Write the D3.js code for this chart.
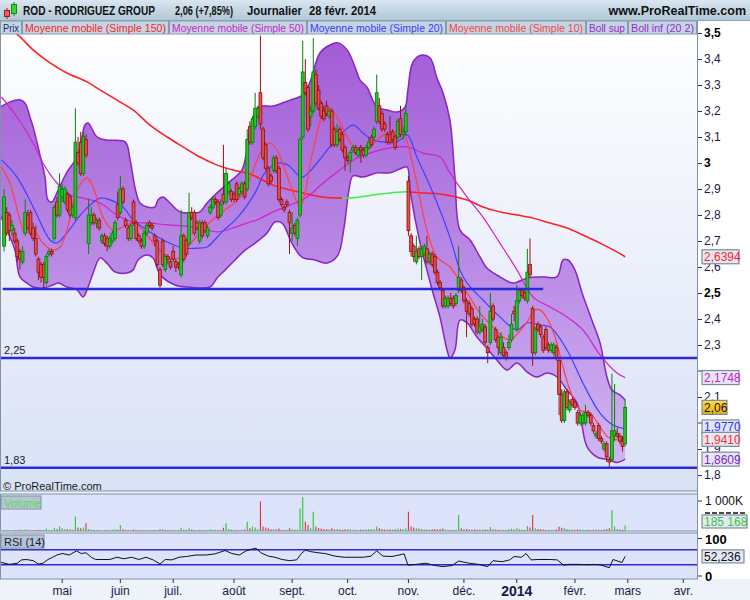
<!DOCTYPE html>
<html><head><meta charset="utf-8">
<script src="https://cdn.jsdelivr.net/npm/d3@7/dist/d3.min.js"></script>
<style>body{margin:0;background:#fff}svg{display:block;font-family:"Liberation Sans",Arial,sans-serif}</style>
</head><body><svg id="chart" width="750" height="600"></svg>
<script>
// ---------------- DATA ----------------
const startIndex = -1; // trading-day index of first candle (index 0 = 2 avr. 2013)
// [open, high, low, close]
const ohlc = [
[2.68,2.90,2.66,2.87],[2.81,2.83,2.72,2.73],[2.80,2.81,2.70,2.74],[2.74,2.78,2.72,2.76],[2.73,2.75,2.69,2.70],
[2.70,2.71,2.62,2.64],[2.66,2.67,2.59,2.63],[2.62,2.68,2.61,2.66],[2.73,2.86,2.72,2.81],[2.80,2.82,2.74,2.75],
[2.81,2.82,2.72,2.73],[2.75,2.77,2.70,2.71],[2.71,2.76,2.64,2.65],[2.63,2.64,2.55,2.58],[2.61,2.62,2.54,2.56],
[2.61,2.62,2.52,2.56],[2.54,2.65,2.53,2.64],[2.65,2.67,2.64,2.66],[2.66,2.67,2.64,2.65],[2.71,2.84,2.70,2.83],
[2.85,2.87,2.79,2.80],[2.80,2.96,2.79,2.91],[2.87,2.92,2.85,2.90],[2.85,2.91,2.84,2.90],[2.88,2.89,2.81,2.82],
[2.87,2.88,2.79,2.80],[2.80,2.84,2.79,2.83],[2.79,3.21,2.78,3.08],[3.04,3.10,2.99,3.00],[3.08,3.12,2.95,2.96],
[2.96,3.12,2.95,3.10],[3.09,3.11,3.02,3.03],[2.69,2.86,2.65,2.80],[2.77,2.83,2.76,2.80],[2.80,2.81,2.76,2.77],
[2.77,2.79,2.75,2.78],[2.78,2.79,2.74,2.75],[2.70,2.73,2.69,2.72],[2.72,2.73,2.68,2.69],[2.71,2.72,2.66,2.68],
[2.68,2.72,2.67,2.71],[2.70,2.74,2.69,2.73],[2.71,2.78,2.70,2.77],[2.84,2.89,2.78,2.79],[2.81,2.95,2.80,2.90],
[2.90,2.91,2.84,2.85],[2.78,2.79,2.75,2.76],[2.75,2.76,2.70,2.71],[2.71,2.77,2.70,2.76],[2.85,2.86,2.76,2.77],
[2.77,2.78,2.70,2.71],[2.72,2.73,2.69,2.70],[2.70,2.71,2.67,2.68],[2.68,2.74,2.67,2.73],[2.73,2.77,2.72,2.76],
[2.77,2.78,2.75,2.76],[2.76,2.77,2.74,2.75],[2.72,2.73,2.68,2.70],[2.70,2.71,2.60,2.61],[2.59,2.60,2.52,2.53],
[2.70,2.71,2.60,2.61],[2.59,2.65,2.58,2.64],[2.64,2.65,2.61,2.63],[2.62,2.63,2.59,2.60],[2.66,2.68,2.62,2.63],
[2.62,2.63,2.58,2.60],[2.61,2.62,2.59,2.60],[2.57,2.82,2.56,2.72],[2.72,2.73,2.62,2.63],[2.70,2.71,2.64,2.65],
[2.69,2.885,2.68,2.81],[2.81,2.83,2.78,2.79],[2.81,2.82,2.72,2.73],[2.77,2.78,2.74,2.75],[2.70,2.78,2.69,2.77],
[2.77,2.78,2.71,2.72],[2.77,2.78,2.73,2.74],[2.72,2.76,2.71,2.75],[2.81,2.84,2.80,2.83],[2.83,2.87,2.82,2.86],
[2.86,2.87,2.84,2.85],[2.85,2.86,2.78,2.79],[2.80,2.86,2.79,2.84],[2.88,3.07,2.84,2.85],[2.85,2.98,2.84,2.96],
[2.89,2.93,2.88,2.92],[2.89,2.90,2.85,2.86],[2.88,2.89,2.85,2.86],[2.92,2.93,2.85,2.86],[2.88,2.91,2.87,2.90],
[2.89,2.93,2.88,2.92],[2.92,2.93,2.86,2.87],[2.90,3.13,2.89,3.09],[3.14,3.16,3.07,3.08],[3.08,3.18,3.07,3.17],
[3.14,3.27,3.13,3.21],[3.18,3.22,3.17,3.21],[3.27,3.49,3.13,3.15],[3.13,3.14,3.01,3.02],[3.07,3.08,2.97,2.98],
[2.98,2.99,2.91,2.92],[2.95,2.96,2.92,2.93],[2.97,3.03,2.96,3.02],[3.02,3.03,2.96,2.97],[2.98,2.99,2.85,2.86],
[2.86,2.87,2.83,2.84],[2.83,2.84,2.81,2.82],[2.85,2.86,2.83,2.84],[2.81,2.82,2.65,2.77],[2.73,2.81,2.70,2.75],
[2.76,2.77,2.72,2.73],[2.71,2.79,2.68,2.78],[2.80,3.10,2.79,3.09],[3.10,3.47,3.09,3.35],[3.31,3.40,3.26,3.27],
[3.29,3.30,3.12,3.13],[3.18,3.22,3.14,3.20],[3.20,3.48,3.19,3.35],[3.34,3.36,3.22,3.23],[3.28,3.30,3.20,3.21],
[3.23,3.24,3.17,3.18],[3.20,3.22,3.16,3.17],[3.22,3.24,3.18,3.19],[3.18,3.21,3.17,3.20],[3.20,3.21,3.06,3.07],
[3.13,3.14,3.06,3.07],[3.07,3.15,3.06,3.12],[3.13,3.14,3.08,3.09],[3.11,3.12,3.04,3.05],[3.06,3.07,2.97,3.02],
[3.02,3.03,3.00,3.01],[3.01,3.05,2.965,3.04],[3.05,3.07,3.04,3.06],[3.06,3.07,3.03,3.04],[3.03,3.06,3.02,3.05],
[3.06,3.07,3.00,3.05],[3.05,3.06,3.02,3.03],[3.03,3.07,3.02,3.06],[3.06,3.10,3.05,3.08],[3.10,3.11,3.06,3.07],
[3.10,3.14,3.09,3.13],[3.16,3.34,3.15,3.27],[3.22,3.25,3.15,3.16],[3.19,3.20,3.12,3.13],[3.15,3.16,3.12,3.13],
[3.11,3.12,3.07,3.08],[3.11,3.18,3.07,3.08],[3.12,3.13,3.08,3.09],[3.10,3.11,3.05,3.06],[3.10,3.17,3.09,3.16],
[3.17,3.22,3.10,3.11],[3.11,3.14,3.09,3.12],[3.12,3.22,3.11,3.19],[2.93,2.95,2.72,2.74],[2.72,2.73,2.64,2.66],
[2.68,2.69,2.62,2.64],[2.62,2.72,2.61,2.66],[2.67,2.68,2.63,2.64],[2.64,2.68,2.55,2.67],[2.65,2.69,2.64,2.68],
[2.67,2.72,2.61,2.62],[2.62,2.66,2.61,2.65],[2.65,2.66,2.60,2.61],[2.64,2.65,2.57,2.58],[2.58,2.59,2.53,2.54],
[2.54,2.55,2.51,2.52],[2.51,2.52,2.44,2.45],[2.45,2.49,2.44,2.48],[2.45,2.49,2.44,2.48],[2.48,2.50,2.45,2.46],
[2.48,2.49,2.44,2.45],[2.46,2.50,2.45,2.49],[2.51,2.68,2.50,2.56],[2.55,2.56,2.50,2.51],[2.52,2.53,2.46,2.47],
[2.47,2.48,2.33,2.43],[2.46,2.47,2.41,2.42],[2.44,2.45,2.37,2.38],[2.40,2.41,2.37,2.38],[2.40,2.41,2.34,2.35],
[2.35,2.45,2.34,2.37],[2.36,2.40,2.35,2.38],[2.37,2.38,2.30,2.31],[2.29,2.30,2.23,2.27],[2.31,2.50,2.30,2.43],
[2.45,2.46,2.39,2.40],[2.36,2.37,2.31,2.32],[2.33,2.34,2.26,2.29],[2.27,2.35,2.26,2.33],[2.29,2.31,2.25,2.26],
[2.27,2.28,2.24,2.25],[2.29,2.34,2.28,2.31],[2.32,2.42,2.31,2.38],[2.43,2.45,2.39,2.42],[2.36,2.53,2.35,2.47],
[2.47,2.52,2.46,2.51],[2.51,2.52,2.48,2.49],[2.50,2.51,2.47,2.48],[2.47,2.67,2.46,2.58],[2.61,2.71,2.56,2.57],
[2.44,2.45,2.22,2.27],[2.27,2.37,2.26,2.36],[2.38,2.39,2.35,2.36],[2.37,2.38,2.33,2.34],[2.33,2.34,2.27,2.28],
[2.36,2.37,2.28,2.29],[2.30,2.31,2.27,2.28],[2.28,2.31,2.27,2.30],[2.27,2.31,2.26,2.30],[2.29,2.30,2.24,2.25],
[2.24,2.25,2.03,2.11],[2.11,2.13,2.00,2.01],[2.01,2.13,2.00,2.12],[2.12,2.13,2.05,2.06],[2.05,2.09,2.04,2.08],
[2.09,2.10,2.06,2.07],[2.08,2.09,2.05,2.06],[2.04,2.05,1.99,2.00],[2.00,2.04,1.99,2.03],[2.00,2.04,1.99,2.03],
[2.00,2.07,1.99,2.04],[2.04,2.05,2.02,2.03],[2.03,2.04,1.99,2.00],[1.99,2.00,1.96,1.97],[1.95,1.97,1.94,1.96],
[1.99,2.00,1.93,1.94],[1.94,1.95,1.92,1.93],[1.90,1.93,1.89,1.92],[1.92,1.93,1.85,1.87],[1.86,1.87,1.83,1.85],
[1.86,2.19,1.85,1.97],[1.95,2.15,1.93,1.97],[1.96,1.98,1.94,1.95],[1.95,1.96,1.92,1.93],[1.93,1.95,1.89,1.91],
[1.92,2.09,1.91,2.06]
];
// volume in thousands, same order as ohlc
const volumeK = [
30,25,20,15,30,25,40,20,60,30, 20,25,30,45,35,30,80,40,25,110, 60,150,90,70,60,50,40,480,120,90,
120,260,70,40,30,25,35,20,30,25, 30,45,60,40,200,60,40,30,25,50, 30,25,20,30,25,20,30,35,25,60,
50,40,30,25,30,20,25,110,40,30, 90,50,30,25,40,30,25,20,60,40, 30,25,40,110,260,70,40,35,30,25,
40,50,310,90,150,120,60,980,150,120, 90,60,70,50,80,40,30,35,90,60, 40,45,750,1130,310,200,90,640,150,100,
80,70,60,50,90,60,70,50,40,60, 50,60,40,45,35,50,40,60,70,50, 60,150,90,70,50,40,60,45,50,80,
60,50,90,640,150,120,90,80,70,60, 50,40,60,70,50,60,80,50,40,35, 30,45,530,90,60,70,50,40,60,45,
50,40,60,40,130,60,50,40,45,35, 40,60,80,50,90,60,40,35,170,120, 530,90,70,60,50,40,35,30,45,50,
140,110,90,60,50,40,45,60,50,40, 35,40,30,45,50,40,35,60,70,90, 700,150,60,50,40,185.168
];
// [trading-day index, value]
const ma150 = [[-1,3.53],[4.3,3.492],[10,3.435],[16.4,3.385],[22.8,3.346],[30.4,3.312],[35.3,3.281],[41.7,3.242],[47.8,3.204],[54.2,3.146],[60.7,3.10],[66.7,3.062],[73.1,3.023],[79.6,2.992],[85.6,2.973],[92,2.958],[100.8,2.915],[107.2,2.896],[113.6,2.881],[119.7,2.869],[127,2.864],[131,2.866],[138.6,2.877],[145,2.885],[151.5,2.889],[157.5,2.885],[164,2.881],[174.2,2.858],[180.2,2.831],[186.6,2.812],[193.1,2.80],[199.1,2.788],[205.6,2.769],[212,2.75],[218,2.723],[224.5,2.692],[230.9,2.658],[234,2.6394]];
const ma50 = [[-2,3.254],[3.9,3.177],[10,3.077],[13.7,3.0],[19,2.923],[24,2.877],[28.9,2.865],[35.3,2.846],[41.7,2.80],[47.8,2.773],[54.2,2.769],[60.7,2.762],[66.7,2.758],[73.1,2.75],[79.6,2.735],[85.6,2.75],[92,2.773],[94.7,2.781],[100.8,2.812],[107.2,2.838],[113.6,2.869],[119.7,2.923],[126.1,2.973],[132.5,3.019],[138.6,3.042],[145,3.058],[151.5,3.062],[157.5,3.038],[164,3.023],[167.7,2.962],[174.2,2.869],[180.2,2.792],[186.6,2.692],[193.1,2.588],[199.1,2.485],[205.6,2.446],[212,2.408],[218,2.358],[224.5,2.262],[230.9,2.192],[234,2.1748]];
const ma20 = [[-2,3.012],[3.9,2.946],[10,2.831],[16.4,2.704],[19,2.692],[22.8,2.731],[28.9,2.812],[35.3,2.865],[39.1,2.858],[44,2.831],[47.8,2.781],[54.2,2.735],[60.7,2.696],[66.7,2.673],[73.1,2.673],[75.8,2.677],[81.5,2.735],[87.5,2.792],[94,2.885],[97.7,2.962],[102.7,3.0],[106.4,2.992],[111.7,2.946],[117.4,3.0],[123.5,3.077],[131,3.146],[134.8,3.115],[138.6,3.088],[142.4,3.081],[147.7,3.081],[151.5,3.108],[155.2,3.023],[161.3,2.885],[167.7,2.715],[171.5,2.588],[174.2,2.538],[180.2,2.473],[186.6,2.408],[193.1,2.358],[196.9,2.385],[201.8,2.377],[205.6,2.369],[212,2.281],[218,2.154],[224.5,2.038],[229.4,1.992],[234,1.977]];
const ma10 = [[-2,2.985],[1.2,2.923],[5,2.781],[6.9,2.731],[10,2.742],[13.7,2.692],[17.5,2.665],[20.2,2.677],[22.8,2.742],[26.6,2.896],[30.4,2.942],[32.7,2.908],[36.4,2.792],[40.2,2.742],[44,2.754],[47.8,2.769],[51.6,2.742],[55.4,2.692],[59.1,2.654],[63,2.63],[66,2.64],[68.6,2.677],[75,2.754],[81.5,2.812],[87.5,2.858],[91.3,2.923],[96.6,3.05],[99.6,3.077],[102.3,3.05],[105.3,2.973],[108,2.896],[111,2.831],[112.9,2.885],[115.5,3.03],[121.2,3.215],[125,3.177],[128.8,3.10],[132.5,3.05],[136.3,3.05],[140.1,3.088],[143.9,3.115],[147.7,3.119],[150.7,3.10],[152.6,3.038],[155.2,2.923],[159,2.742],[162.8,2.638],[167.7,2.60],[174.2,2.50],[179.1,2.423],[184,2.369],[187.8,2.331],[190.4,2.319],[193.5,2.346],[196.9,2.388],[199.9,2.435],[201.8,2.435],[204.4,2.404],[207.5,2.331],[210.1,2.231],[213.1,2.127],[216.9,2.05],[220.7,2.038],[224.5,1.985],[227.5,1.946],[230.9,1.935],[234,1.941]];
const bollUp = [[-2.5,3.215],[1.25,3.235],[5,3.243],[6.9,3.231],[8.8,3.177],[10,3.138],[12.6,3.031],[14.5,2.946],[15.6,2.858],[17.1,2.85],[19,2.885],[20.9,2.927],[22.8,2.965],[26.6,3.023],[28.5,3.10],[29.6,3.146],[30.8,3.154],[34.2,3.10],[38,3.088],[44.8,3.081],[46.7,3.012],[48.5,2.908],[50.4,2.846],[53.1,2.831],[56.1,2.831],[57.2,2.858],[59.1,2.869],[61.8,2.846],[65.6,2.812],[70.5,2.808],[73.1,2.812],[75.8,2.846],[79.6,2.885],[85.2,2.935],[89,2.973],[90.9,3.05],[92.1,3.127],[95.1,3.215],[100.8,3.219],[107.2,3.242],[112.1,3.262],[114.8,3.312],[118.5,3.423],[122.3,3.454],[125.3,3.462],[128.8,3.435],[131.8,3.369],[133.7,3.319],[136.3,3.292],[140.1,3.215],[143.9,3.204],[147.7,3.196],[150.7,3.215],[151.8,3.281],[153.7,3.388],[157.1,3.415],[160.2,3.404],[162.8,3.327],[165.1,3.269],[167.7,3.165],[169.6,2.946],[171.5,2.742],[175.3,2.704],[179.1,2.638],[181.7,2.596],[186.6,2.562],[191.6,2.538],[196.9,2.558],[202.9,2.562],[208.2,2.562],[210.5,2.627],[212.4,2.627],[215,2.588],[217.7,2.50],[219.6,2.446],[221.8,2.385],[224.5,2.308],[227.1,2.177],[229,2.127],[232,2.108],[234,2.088]];
const bollLow = [[-2.5,2.80],[0.1,2.742],[3.1,2.665],[5,2.562],[7.7,2.538],[10,2.523],[13.7,2.519],[17.5,2.531],[19.4,2.538],[22.8,2.523],[26.6,2.512],[28.9,2.485],[30.8,2.523],[32.7,2.577],[35.3,2.635],[37.9,2.615],[41,2.581],[45.5,2.577],[47.8,2.588],[49.7,2.627],[53.1,2.646],[55.4,2.635],[57.2,2.588],[58.8,2.562],[63.7,2.531],[68.6,2.523],[76.9,2.523],[79.6,2.558],[82.6,2.588],[86.4,2.627],[90.2,2.665],[94,2.692],[98.5,2.731],[101.5,2.773],[104.2,2.769],[107.9,2.692],[111.7,2.638],[116.6,2.627],[121.2,2.615],[125.3,2.646],[127.6,2.75],[129.5,2.896],[131,2.95],[134.8,2.946],[140.1,2.962],[145,2.962],[149.6,2.981],[151.5,2.985],[152.6,2.896],[156.4,2.692],[159,2.588],[161.3,2.50],[163.9,2.408],[166.6,2.281],[167.7,2.25],[169.6,2.281],[171.5,2.396],[174.2,2.385],[177.9,2.331],[181.7,2.288],[185.5,2.242],[189.3,2.204],[193.1,2.231],[196.9,2.196],[200.6,2.177],[204.4,2.192],[208.2,2.177],[212,2.127],[215.8,2.077],[219.6,1.908],[223.4,1.869],[228.3,1.858],[230.9,1.848],[234,1.8609]];
const rsi14 = [[-3,38],[1,31],[4,34],[5.6,43],[7.4,44],[10,41],[12,32],[13.7,34],[15.6,44],[17.4,50],[19,56],[21,60],[23.7,56],[26.4,67],[28.2,60],[30,62],[32,50],[33.7,44],[36.4,44],[39,44],[41.7,50],[44.4,46],[47.3,50],[50,44],[52.7,50],[55.4,43],[58,32],[60,44],[62.5,43],[65.2,50],[68,52],[71.6,56],[75.4,56],[78.8,59],[82.6,68],[85.2,60],[88,56],[90.6,67],[92.4,71],[94.3,74],[96.2,62],[99,53],[101.5,50],[104.2,44],[107,41],[109.7,43],[111.5,60],[113,69],[115,65],[117.8,62],[120.4,60],[124.2,53],[127.8,50],[131.4,50],[135,50],[137.8,53],[140,67],[142.4,53],[145.8,52],[150.4,59],[151.8,29],[155,31],[158.6,34],[162,28],[165,25],[168.5,28],[171,40],[175,34],[178.5,31],[182,25],[184,41],[187.4,38],[190.3,43],[192,52],[194.8,50],[196.5,60],[198.4,43],[201,44],[205.6,44],[208.3,43],[210.7,29],[212.8,31],[216.6,31],[220,30],[221.8,31],[224.5,30],[228,22],[229.4,44],[232.8,36],[234,52.236]];
const supportLevels = [{p:2.515, from:-1.5, to:203}, {p:2.25, from:-5, to:270, label:"2,25"}, {p:1.828, from:-5, to:270, label:"1,83"}];
const monthStarts = [21,43,63,86,108,129,152,173,193,215,235,256];
const monthLabels = ["mai","juin","juil.","août","sept.","oct.","nov.","déc.","2014","févr.","mars","avr."];
const priceTicks = [3.5,3.4,3.3,3.2,3.1,3.0,2.9,2.8,2.7,2.6,2.5,2.4,2.3,2.1,1.9,1.8];
const lastValues = [{v:2.6394,c:"#ff1e1e",dy:0},{v:2.1748,c:"#d020d0",dy:0},{v:1.9770,c:"#3030ff",dy:-2},{v:1.9410,c:"#ff3030",dy:1},{v:1.8609,c:"#8a1ec8",dy:0}];
const lastClose = 2.06, lastVolume = "185 168", lastRsi = 52.236;
const legendItems = [["Prix","#1a2a6a"],["Moyenne mobile (Simple 150)","#f02828"],["Moyenne mobile (Simple 50)","#c828c8"],["Moyenne mobile (Simple 20)","#3a3aff"],["Moyenne mobile (Simple 10)","#f04848"],["Boll sup","#9a2ad0"],["Boll inf (20 2)","#9a2ad0"]];

// ---------------- LAYOUT ----------------
const L = {left:1, right:697, pTop:21, pBot:491, vTop:494, vBot:531, rTop:533, rBot:579};
const tabEdges = [0,22,169,307,446,586,628,697];
const svg = d3.select("#chart");
const defs = svg.append("defs");
function vgrad(id,y1,y2,stops){const g=defs.append("linearGradient").attr("id",id).attr("gradientUnits","userSpaceOnUse").attr("x1",0).attr("x2",0).attr("y1",y1).attr("y2",y2);stops.forEach(s=>g.append("stop").attr("offset",s[0]).attr("stop-color",s[1]));}
vgrad("gHead",0,20,[[0,"#d8e6f0"],[1,"#b1c7d7"]]);
vgrad("gPrice",L.pTop,L.pBot,[[0,"#ffffff"],[1,"#d9e1f6"]]);
vgrad("gBand",40,470,[[0,"#a25cd6"],[1,"#d0b6f3"]]);
vgrad("gGold",400,415,[[0,"#ffd84a"],[1,"#e8b000"]]);
defs.append("clipPath").attr("id","clipP").append("rect").attr("x",L.left).attr("y",L.pTop).attr("width",L.right-L.left).attr("height",L.pBot-L.pTop);
defs.append("clipPath").attr("id","clipR").append("rect").attr("x",L.left).attr("y",L.rTop).attr("width",L.right-L.left).attr("height",L.rBot-L.rTop);

const x = d3.scaleLinear().domain([0,256]).range([6.7,683.3]);
const yP = d3.scaleLinear().domain([1.8,3.5]).range([475,33]);
const yV = d3.scaleLinear().domain([0,1000]).range([L.vBot,501]);
const yR = d3.scaleLinear().domain([0,100]).range([576,538.5]);
const comma = v => String(+v.toFixed(4)).replace(".",",");
const comma4 = v => v.toFixed(4).replace(".",",");

// backgrounds
svg.append("rect").attr("width",750).attr("height",600).attr("fill","#eef2f9");
svg.append("rect").attr("x",L.right).attr("y",L.pTop).attr("width",53).attr("height",L.rBot-L.pTop).attr("fill","#ffffff");
svg.append("rect").attr("x",L.left).attr("y",L.pTop).attr("width",L.right-L.left).attr("height",L.pBot-L.pTop).attr("fill","url(#gPrice)");
svg.append("rect").attr("x",L.left).attr("y",L.vTop).attr("width",L.right-L.left).attr("height",L.vBot-L.vTop).attr("fill","#dce3fa");
svg.append("rect").attr("x",L.left).attr("y",L.rTop).attr("width",L.right-L.left).attr("height",L.rBot-L.rTop).attr("fill","#dce3fa");

// ---------------- PRICE PANEL ----------------
const gp = svg.append("g").attr("clip-path","url(#clipP)");
const cr = d3.curveCatmullRom.alpha(0.5);
const ln = d3.line().x(d=>x(d[0])).y(d=>yP(d[1])).curve(cr);
const bandPath = ln(bollUp) + "L" + ln(bollLow.slice().reverse()).slice(1) + "Z";
gp.append("path").attr("d",bandPath).attr("fill","url(#gBand)");
gp.append("path").attr("d",ln(bollUp)).attr("fill","none").attr("stroke","#8a22c4").attr("stroke-width",1.5);
gp.append("path").attr("d",ln(bollLow)).attr("fill","none").attr("stroke","#8a22c4").attr("stroke-width",1.5);

// MA150 coloured green where rising
let runs=[], cur=null;
for(let k=0;k<ma150.length-1;k++){const up=ma150[k+1][1]>ma150[k][1];const col=up?"#3cf03c":"#ff1e1e";if(!cur||cur.col!==col){cur={col,pts:[ma150[k]]};runs.push(cur);}cur.pts.push(ma150[k+1]);}
runs.forEach(r=>gp.append("path").attr("d",ln(r.pts)).attr("fill","none").attr("stroke",r.col).attr("stroke-width",1.5));
[[ma50,"#d020d0"],[ma20,"#4040ff"],[ma10,"#ff4040"]].forEach(([d,c])=>gp.append("path").attr("d",ln(d)).attr("fill","none").attr("stroke",c).attr("stroke-width",1.2));

// candles
const cg = gp.append("g");
ohlc.forEach((d,k)=>{
  const i=startIndex+k, cx=x(i), up=d[3]>=d[0];
  const edge=up?"#0a800a":"#9a1212", fill=up?"#26c626":"#dc5450";
  cg.append("line").attr("x1",cx).attr("x2",cx).attr("y1",yP(d[1])).attr("y2",yP(d[2])).attr("stroke",edge).attr("stroke-width",1);
  const y0=yP(Math.max(d[0],d[3])), h=Math.max(1,Math.abs(yP(d[0])-yP(d[3])));
  cg.append("rect").attr("x",cx-1.4).attr("y",y0).attr("width",2.8).attr("height",h).attr("fill",fill).attr("stroke",edge).attr("stroke-width",0.9);
});
// support lines
supportLevels.forEach(s=>{
  gp.append("line").attr("x1",Math.max(L.left,x(s.from))).attr("x2",Math.min(L.right,x(s.to))).attr("y1",yP(s.p)).attr("y2",yP(s.p)).attr("stroke","#2a2ad8").attr("stroke-width",2.5);
  if(s.label) gp.append("text").attr("x",4).attr("y",yP(s.p)-4).attr("font-size",11).attr("fill","#1a1a2a").text(s.label);
});
svg.append("text").attr("x",3).attr("y",490).attr("font-size",11).attr("fill","#1a1a1a").text("© ProRealTime.com");

// price axis
const ax = svg.append("g").attr("transform",`translate(${L.right},0)`).call(d3.axisRight(yP).tickValues(priceTicks).tickSize(4).tickPadding(3).tickFormat(comma));
ax.select(".domain").remove();
ax.selectAll("line").attr("stroke","#333").attr("transform","translate(1,0)");
ax.selectAll("text").attr("font-size",12).attr("font-family","Liberation Sans, Arial, sans-serif")
  .attr("font-weight",d=>Math.abs(d*2-Math.round(d*2))<1e-6?"bold":"normal").attr("fill",d=>Math.abs(d*2-Math.round(d*2))<1e-6?"#000":"#141c48");
// hidden-behind-box ticks (2,2 and 2,0): tick marks only
[2.2,2.0].forEach(v=>svg.append("line").attr("x1",698).attr("x2",702).attr("y1",yP(v)).attr("y2",yP(v)).attr("stroke","#333"));

// value boxes
function vbox(yc,txt,color,w,fill){
  svg.append("rect").attr("x",702).attr("y",yc-7).attr("width",w).attr("height",14).attr("fill",fill||"#e3e8f6").attr("stroke","#7c8c9c").attr("stroke-width",1.2);
  svg.append("text").attr("x",704).attr("y",yc+4.5).attr("font-size",12).attr("fill",color).text(txt);
}
lastValues.forEach(o=>vbox(yP(o.v)+o.dy,comma4(o.v),o.c,37));
vbox(yP(lastClose),comma(lastClose),"#111",25,"url(#gGold)");

// ---------------- VOLUME ----------------
const gv = svg.append("g");
volumeK.forEach((v,k)=>{const i=startIndex+k, d=ohlc[k], up=d[3]>=d[0];
  gv.append("line").attr("x1",x(i)).attr("x2",x(i)).attr("y1",yV(0)).attr("y2",yV(v)).attr("stroke",up?"#22cc22":"#e03030").attr("stroke-width",1.1);});
svg.append("text").attr("x",705).attr("y",yV(1000)+4).attr("font-size",12).attr("fill","#111").text("1 000K");
svg.append("line").attr("x1",698).attr("x2",702).attr("y1",yV(1000)).attr("y2",yV(1000)).attr("stroke","#333");
svg.append("line").attr("x1",705).attr("x2",745).attr("y1",513).attr("y2",513).attr("stroke","#111").attr("stroke-width",1.5).attr("stroke-dasharray","5,2");
svg.append("rect").attr("x",702).attr("y",515).attr("width",45).attr("height",13).attr("fill","#e3e8f6").attr("stroke","#7c8c9c").attr("stroke-width",1.2);
svg.append("text").attr("x",704).attr("y",525.5).attr("font-size",12).attr("fill","#33cc33").text(lastVolume);

// ---------------- RSI ----------------
const gr = svg.append("g").attr("clip-path","url(#clipR)");
[70,30].forEach(v=>gr.append("line").attr("x1",L.left).attr("x2",L.right).attr("y1",yR(v)).attr("y2",yR(v)).attr("stroke","#2a2ad8").attr("stroke-width",1.4));
gr.append("path").attr("d",d3.line().x(d=>x(d[0])).y(d=>yR(d[1]))(rsi14)).attr("fill","none").attr("stroke","#111").attr("stroke-width",1);
[[100,"100"],[0,"0"]].forEach(([v,t])=>{svg.append("text").attr("x",705).attr("y",yR(v)+5).attr("font-size",13).attr("font-weight","bold").attr("fill","#000").text(t);
  svg.append("line").attr("x1",698).attr("x2",702).attr("y1",yR(v)).attr("y2",yR(v)).attr("stroke","#333");});
svg.append("rect").attr("x",702).attr("y",yR(lastRsi)-6.5).attr("width",42).attr("height",13).attr("fill","#e3e8f6").attr("stroke","#7c8c9c").attr("stroke-width",1.2);
svg.append("text").attr("x",704).attr("y",yR(lastRsi)+4.5).attr("font-size",12).attr("fill","#111").text(comma(lastRsi));

// panel borders
[[L.pTop,L.pBot],[L.vTop,L.vBot],[L.rTop,L.rBot]].forEach(([a,b])=>svg.append("rect").attr("x",0.5).attr("y",a).attr("width",L.right).attr("height",b-a).attr("fill","none").attr("stroke","#7f93a6").attr("stroke-width",1));
svg.append("line").attr("x1",L.right+0.5).attr("x2",L.right+0.5).attr("y1",L.pTop).attr("y2",L.rBot).attr("stroke","#7f93a6");

// tags
function tag(x0,y0,w,txt,color){svg.append("rect").attr("x",x0).attr("y",y0).attr("width",w).attr("height",13).attr("fill","#b6c5d3").attr("stroke","#7f93a6");
  svg.append("text").attr("x",x0+3).attr("y",y0+10.5).attr("font-size",11).attr("fill",color).text(txt);}
tag(1,L.vTop+2,40,"Volume","#4ee04e");
tag(1,L.rTop+2,43,"RSI (14)","#1a1a3a");

// ---------------- X AXIS ----------------
const xa = svg.append("g");
monthStarts.forEach((m,k)=>{
  xa.append("line").attr("x1",x(m)).attr("x2",x(m)).attr("y1",L.rBot).attr("y2",L.rBot+4).attr("stroke","#333");
  const is2014=monthLabels[k]==="2014";
  xa.append("text").attr("x",x(m)).attr("y",is2014?596:595).attr("text-anchor","middle").attr("font-size",is2014?14:12).attr("font-weight",is2014?"bold":"normal").attr("fill","#141c48").text(monthLabels[k]);
});

// ---------------- HEADER + LEGEND TABS ----------------
svg.append("rect").attr("width",750).attr("height",20).attr("fill","url(#gHead)");
svg.append("line").attr("x1",0).attr("x2",750).attr("y1",20.5).attr("y2",20.5).attr("stroke","#8da1b3");
svg.append("line").attr("x1",7).attr("x2",7).attr("y1",8).attr("y2",19).attr("stroke","#a01818");
svg.append("rect").attr("x",4.5).attr("y",10.5).attr("width",5).attr("height",6).attr("fill","#e86060").attr("stroke","#a01818");
svg.append("line").attr("x1",14).attr("x2",14).attr("y1",2).attr("y2",16).attr("stroke","#0f8f0f");
svg.append("rect").attr("x",11.5).attr("y",4.5).attr("width",5).attr("height",9).attr("fill","#3ad03a").attr("stroke","#0f8f0f");
const head = [["ROD - RODRIGUEZ GROUP",23,132],["2,06 (+7,85%)",175,58],["Journalier",247,55],["28 févr. 2014",309,67]];
head.forEach(([t,x0,w])=>svg.append("text").attr("x",x0).attr("y",15).attr("font-size",12.5).attr("font-weight","bold").attr("fill","#111").attr("textLength",w).attr("lengthAdjust","spacingAndGlyphs").text(t));
svg.append("text").attr("x",746).attr("y",15).attr("text-anchor","end").attr("font-size",12.5).attr("font-weight","bold").attr("fill","#111").text("www.ProRealTime.com");
legendItems.forEach(([t,c],k)=>{const x0=tabEdges[k],x1=tabEdges[k+1];
  svg.append("rect").attr("x",x0+0.5).attr("y",21).attr("width",x1-x0-1).attr("height",13).attr("fill","#c4d4e3").attr("stroke","#8a9db0");
  svg.append("text").attr("x",x0+3).attr("y",31.5).attr("font-size",11).attr("fill",c).attr("textLength",x1-x0-6).attr("lengthAdjust","spacingAndGlyphs").text(t);});
</script></body></html>
